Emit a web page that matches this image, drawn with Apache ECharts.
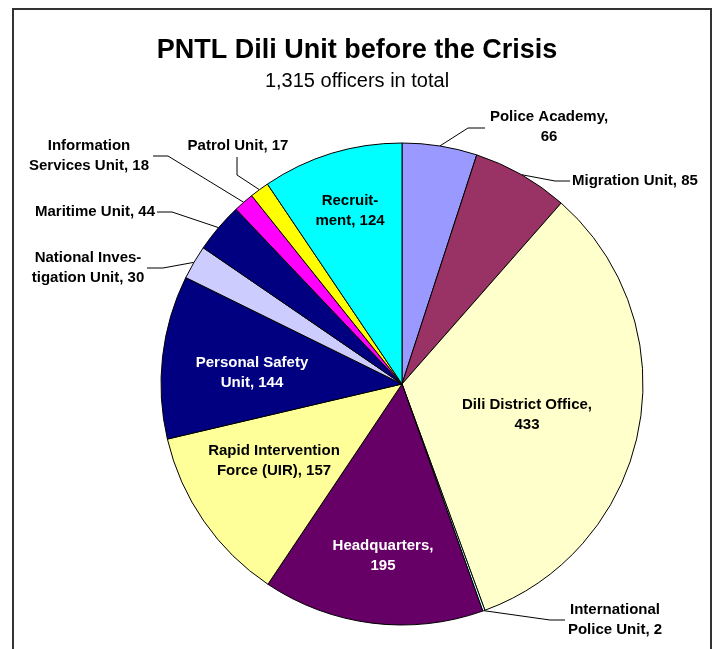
<!DOCTYPE html>
<html>
<head>
<meta charset="utf-8">
<script src="https://cdn.jsdelivr.net/npm/echarts@6/dist/echarts.min.js"></script>
<style>
  html, body { margin: 0; padding: 0; background: #fff; }
  #chart { width: 718px; height: 649px; }
</style>
</head>
<body>
<div id="chart"></div>
<script>
// slice names (clockwise from 12 o'clock) and officer counts
const categories = [
  'Police Academy', 'Migration Unit', 'Dili District Office', 'International\nPolice Unit',
  'Headquarters', 'Rapid Intervention\nForce (UIR)', 'Personal Safety\nUnit',
  'National Inves-\ntigation Unit', 'Maritime Unit', 'Information\nServices Unit',
  'Patrol Unit', 'Recruit-\nment'
];
const officers = [66, 85, 433, 2, 195, 157, 144, 30, 44, 18, 17, 124];
// true = value goes on its own line after the comma
const valueOnNewLine = [true, false, true, false, true, false, false, false, false, false, false, false];
const colors = ['#9999FF', '#993366', '#FFFFCC', '#CCFFFF', '#660066', '#FFFF99', '#000080',
  '#CCCCFF', '#000080', '#FF00FF', '#FFFF00', '#00FFFF'];
const insideLabel = [false, false, true, false, true, true, true, false, false, false, false, true];
const whiteText = [false, false, false, false, true, false, true, false, false, false, false, false];

// where Excel put each label (x, y, align) and the leader line elbows
const labelPlace = {
  0: { x: 549, y: 127, align: 'center', line: [[468, 128], [485, 128]] },
  1: { x: 572, y: 181, align: 'left', line: [[555, 181], [570, 181]] },
  2: { x: 527, y: 415, align: 'center' },
  3: { x: 615, y: 620, align: 'center', line: [[550, 620], [565, 620]] },
  4: { x: 383, y: 556, align: 'center' },
  5: { x: 274, y: 461, align: 'center' },
  6: { x: 252, y: 373, align: 'center' },
  7: { x: 88, y: 268, align: 'center', line: [[163, 268], [147, 268]] },
  8: { x: 155, y: 212, align: 'right', line: [[172, 212], [157, 212]] },
  9: { x: 89, y: 156, align: 'center', line: [[168, 156], [153, 156]] },
  10: { x: 238, y: 146, align: 'center', line: [[237, 175], [237, 157]] },
  11: { x: 350, y: 211, align: 'center' }
};

const font = '"Liberation Sans", Arial, Helvetica, sans-serif';

let myChart = echarts.init(document.getElementById('chart'));

const pieData = categories.map((name, i) => ({
  name: name,
  value: officers[i],
  itemStyle: { color: colors[i] },
  label: {
    position: insideLabel[i] ? 'inside' : 'outside',
    color: whiteText[i] ? '#ffffff' : '#000000',
    formatter: valueOnNewLine[i] ? '{b},\n{c}' : '{b}, {c}'
  },
  labelLine: { show: !insideLabel[i] }
}));

myChart.setOption({
  animation: false,
  backgroundColor: '#ffffff',
  title: {
    text: 'PNTL Dili Unit before the Crisis',
    subtext: '1,315 officers in total',
    left: 352,
    textAlign: 'center',
    top: 32,
    itemGap: 7,
    textStyle: { fontFamily: font, fontSize: 27, fontWeight: 'bold', color: '#000' },
    subtextStyle: { fontFamily: font, fontSize: 20, color: '#000' }
  },
  graphic: [{
    type: 'rect',
    shape: { x: 13, y: 9, width: 698, height: 700 },
    style: { fill: null, stroke: '#333', lineWidth: 2 },
    silent: true
  }],
  series: [{
    type: 'pie',
    center: [402, 384],
    radius: 241,
    startAngle: 90,
    clockwise: true,
    avoidLabelOverlap: false,
    minShowLabelAngle: 0,
    itemStyle: { borderColor: '#000', borderWidth: 1 },
    emphasis: { disabled: true },
    label: {
      fontFamily: font,
      fontSize: 15,
      fontWeight: 'bold',
      lineHeight: 20
    },
    labelLine: {
      lineStyle: { color: '#000', width: 1 },
      length: 10,
      length2: 10
    },
    labelLayout: function (params) {
      const p = labelPlace[params.dataIndex];
      const out = { x: p.x, y: p.y, align: p.align, verticalAlign: 'middle' };
      if (p.line && params.labelLinePoints) {
        out.labelLinePoints = [params.labelLinePoints[0], p.line[0], p.line[1]];
      }
      return out;
    },
    data: pieData
  }]
});
</script>
</body>
</html>
